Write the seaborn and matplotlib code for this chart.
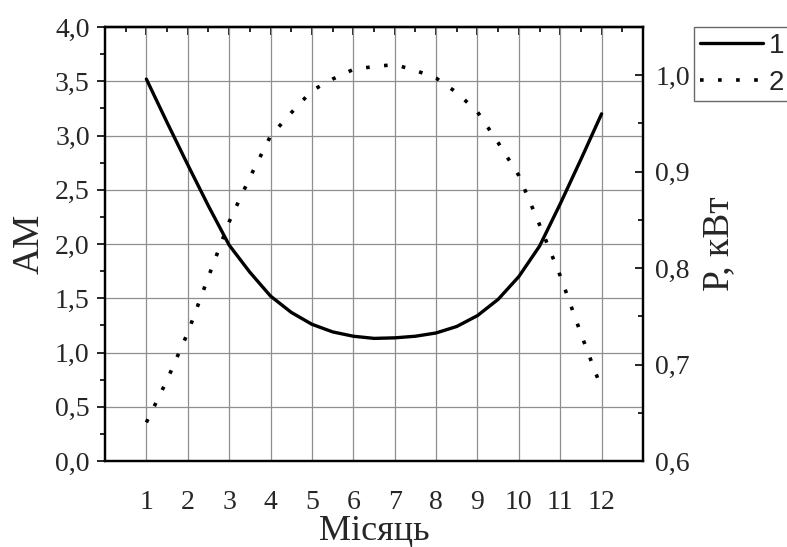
import numpy as np
import pandas as pd
import matplotlib
matplotlib.use("Agg")
import matplotlib.pyplot as plt
from matplotlib.ticker import MultipleLocator, FixedLocator, FuncFormatter
from matplotlib.lines import Line2D
import seaborn as sns

# ---- data ----
months = [1, 1.5, 2, 2.5, 3, 3.5, 4, 4.5, 5, 5.5, 6, 6.5, 7, 7.5, 8, 8.5, 9, 9.5,
          10, 10.5, 11, 11.5, 12]
am_values = [3.52, 3.12, 2.73, 2.35, 1.99, 1.74, 1.52, 1.37, 1.26, 1.19, 1.15, 1.13,
             1.135, 1.15, 1.18, 1.24, 1.34, 1.49, 1.70, 1.98, 2.37, 2.78, 3.20]
p_values = [0.640, 0.684, 0.733, 0.791, 0.848, 0.894, 0.937, 0.961, 0.984, 0.996,
            1.006, 1.009, 1.011, 1.005, 0.997, 0.982, 0.962, 0.930, 0.896, 0.845,
            0.792, 0.732, 0.675]
month_ticks = [1, 2, 3, 4, 5, 6, 7, 8, 9, 10, 11, 12]
am_ticks = [0.0, 0.5, 1.0, 1.5, 2.0, 2.5, 3.0, 3.5, 4.0]
p_ticks = [0.6, 0.7, 0.8, 0.9, 1.0]
legend_labels = ["1", "2"]
x_label = "Місяць"
y_label_left = "AM"
y_label_right = "Р, кВт"

df = pd.DataFrame({"month": months, "AM": am_values, "P": p_values})

sns.set_style("white")
plt.rcParams["font.family"] = ["Liberation Serif", "DejaVu Serif"]
plt.rcParams["axes.linewidth"] = 1.6

fig = plt.figure(figsize=(7.87, 5.47), dpi=100)
ax = fig.add_axes([105 / 787, 1 - 461 / 547, (643 - 105) / 787, (461 - 27) / 547])

comma = FuncFormatter(lambda v, pos: f"{v:.1f}".replace(".", ","))

# grid
ax.set_axisbelow(True)
ax.grid(True, which="major", color="#8f8f8f", linewidth=0.9)

sns.lineplot(data=df, x="month", y="AM", ax=ax, color="black", linewidth=2.4,
             legend=False)
ax.set_xlim(0, 13)
ax.set_ylim(0, 4)
ax.xaxis.set_major_locator(FixedLocator(month_ticks))
ax.xaxis.set_minor_locator(FixedLocator([m + 0.5 for m in range(0, 13)]))
ax.set_xticklabels([str(m) for m in month_ticks])
ax.yaxis.set_major_locator(FixedLocator(am_ticks))
ax.yaxis.set_minor_locator(MultipleLocator(0.25))
ax.yaxis.set_major_formatter(comma)
ax.tick_params(axis="x", which="major", direction="out", length=6, width=1.4,
               labelsize=20, pad=15)
ax.tick_params(axis="x", which="minor", direction="out", length=3.5, width=1.4)
ax.tick_params(axis="y", which="major", direction="out", length=6, width=1.4,
               labelsize=20, pad=5)
ax.tick_params(axis="y", which="minor", direction="out", length=3.5, width=1.4)
ax.set_xlabel(x_label, fontsize=26, labelpad=0)
ax.set_ylabel(y_label_left, fontsize=27, labelpad=6)

# top ticks pointing inward
top = ax.secondary_xaxis("top")
top.xaxis.set_major_locator(FixedLocator(month_ticks))
top.xaxis.set_minor_locator(FixedLocator([m + 0.5 for m in range(0, 13)]))
top.tick_params(which="major", direction="in", length=6, width=1.4, labeltop=False)
top.tick_params(which="minor", direction="in", length=3.5, width=1.4)
top.spines["top"].set_linewidth(1.6)

ax2 = ax.twinx()
sns.lineplot(data=df, x="month", y="P", ax=ax2, color="black", linewidth=2.6,
             legend=False)
ax2.lines[0].set_linestyle((0, (1, 4.0)))
ax2.set_ylim(0.6, 1.05)
ax2.yaxis.set_major_locator(FixedLocator(p_ticks))
ax2.yaxis.set_minor_locator(FixedLocator([0.65, 0.75, 0.85, 0.95]))
ax2.yaxis.set_major_formatter(comma)
ax2.tick_params(axis="y", which="major", direction="in", length=6, width=1.4,
                labelsize=20, pad=9)
ax2.tick_params(axis="y", which="minor", direction="in", length=3.5, width=1.4)
ax2.set_ylabel(y_label_right, fontsize=27, labelpad=8)
ax2.grid(False)
for a in (ax, ax2):
    for s in a.spines.values():
        s.set_color("black")
        s.set_linewidth(1.6)

handles = [Line2D([], [], color="black", linewidth=2.4),
           Line2D([], [], color="black", linewidth=2.6, linestyle=(0, (1, 4.0)))]
leg = fig.legend(handles, legend_labels, loc="upper left",
                 bbox_to_anchor=(694 / 787, 1 - 27 / 547),
                 prop={"family": "Liberation Sans", "size": 20},
                 frameon=True, fancybox=False, edgecolor="#444444",
                 handlelength=2.3, handletextpad=0.2, borderpad=0.2,
                 borderaxespad=0, labelspacing=0.4)
leg.get_frame().set_linewidth(1.0)

fig.savefig("out.png", dpi=100)
